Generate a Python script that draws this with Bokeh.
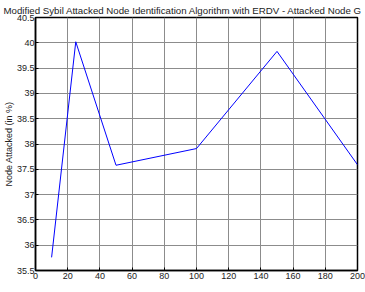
from bokeh.plotting import figure
from bokeh.models import Range1d, FixedTicker, Label
from bokeh.embed import file_html
from bokeh.resources import INLINE

nodes = [10, 25, 50, 100, 150, 200]
attacked = [35.76, 40.02, 37.58, 37.91, 39.83, 37.59]
x_ticks = [0, 20, 40, 60, 80, 100, 120, 140, 160, 180, 200]
y_ticks = [35.5, 36, 36.5, 37, 37.5, 38, 38.5, 39, 39.5, 40, 40.5]
title_text = "Modified Sybil Attacked Node Identification Algorithm with ERDV - Attacked Node G"
x_label = "Node"
y_label = "Node Attacked (in %)"

FONT = "Liberation Sans"

p = figure(width=365, height=292, output_backend="svg", toolbar_location=None,
           x_range=Range1d(0, 200), y_range=Range1d(35.5, 40.5),
           min_border_left=35, min_border_right=8, min_border_top=17, min_border_bottom=22)

p.title.text = title_text
p.title.text_font = FONT
p.title.text_font_size = "9.7px"
p.title.text_font_style = "normal"
p.title.align = "left"
p.title.text_color = "#222222"
p.title.offset = -32
p.title.standoff = 4

p.xgrid.ticker = FixedTicker(ticks=x_ticks)
p.ygrid.ticker = FixedTicker(ticks=y_ticks)
p.grid.grid_line_color = "#8c8c8c"
p.grid.grid_line_width = 1
p.grid.grid_line_alpha = 1

p.line(nodes, attacked, line_color="#0000ff", line_width=1)

for ax in (p.xaxis[0], p.yaxis[0]):
    ax.major_label_text_font = FONT
    ax.major_label_text_font_size = "9px"
    ax.major_label_text_color = "#222222"
    ax.major_tick_in = 3
    ax.major_tick_out = 0
    ax.minor_tick_in = 0
    ax.minor_tick_out = 0
    ax.axis_line_color = "black"
    ax.axis_line_width = 1.5
    ax.major_tick_line_color = "black"

p.xaxis.ticker = FixedTicker(ticks=x_ticks)
p.yaxis.ticker = FixedTicker(ticks=y_ticks)
p.xaxis.major_label_standoff = 2
p.yaxis.major_label_standoff = 1

p.yaxis.axis_label = y_label
p.yaxis.axis_label_text_font = FONT
p.yaxis.axis_label_text_font_size = "9px"
p.yaxis.axis_label_text_font_style = "normal"
p.yaxis.axis_label_text_color = "#222222"
p.yaxis.axis_label_standoff = 0

p.outline_line_color = "black"
p.outline_line_width = 1.5
p.outline_line_alpha = 1
p.background_fill_color = "white"
p.border_fill_color = "white"

p.add_layout(Label(x=100, y=35.5, y_offset=-21, text=x_label, text_font=FONT,
                   text_font_size="9px", text_align="center", text_baseline="bottom",
                   text_color="#222222"))

open("out.html", "w").write(file_html(p, INLINE))
